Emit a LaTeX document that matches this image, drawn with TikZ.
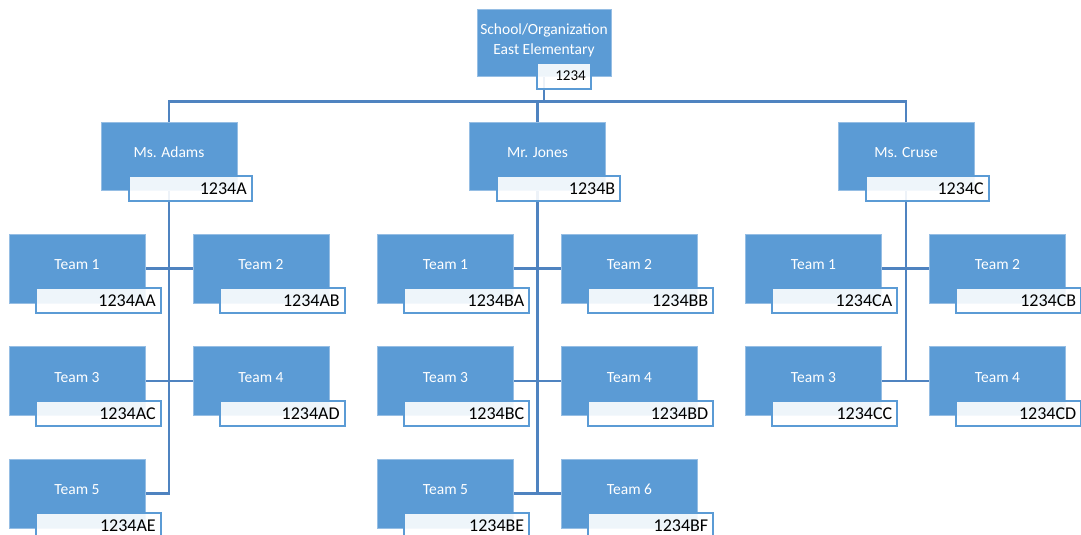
\documentclass[tikz,border=0pt]{standalone}
\usepackage{fontspec}
\setmainfont{Carlito}
\usetikzlibrary{backgrounds,calc}
\definecolor{boxblue}{RGB}{91,155,213}
\definecolor{lineblue}{RGB}{79,131,192}
\definecolor{edgeblue}{RGB}{150,190,228}
\tikzset{
  boxbase/.style={rectangle, fill=boxblue, draw=edgeblue, line width=0.6pt, inner sep=0pt,
    minimum width=136pt, minimum height=69pt, text=white, font=\fontsize{15.5}{19}\selectfont},
  box/.style={boxbase, text height=11pt, text depth=3pt},
  topbox/.style={boxbase, minimum width=134pt, minimum height=67pt},
  mgrbox/.style={box, minimum height=68pt},
  lab/.style={rectangle, draw=boxblue, line width=2pt, fill=white, fill opacity=0.9, text opacity=1,
    text=black, inner ysep=0pt, inner xsep=5pt, minimum height=25pt, align=right,
    text width=115pt, anchor=north west, font=\fontsize{18}{20}\selectfont,
    text height=14pt, text depth=2pt},
  mgrlab/.style={lab, text width=113pt},
  toplab/.style={lab, text width=44pt, minimum height=26pt, font=\fontsize{15}{17}\selectfont,
    text height=11pt, text depth=3pt},
  conn/.style={draw=lineblue, line width=2.6pt}
}
\newcommand{\up}[2]{\raisebox{#1}{#2}}
\begin{document}
\begin{tikzpicture}[x=1pt,y=-1pt]
\useasboundingbox (0,0) rectangle (1081,535);

% top
\node[topbox] (top) at (544,42.5) {\up{19pt}{\begin{tabular}{@{}c@{}}School/Organization\\[0.5pt]East Elementary\end{tabular}}};
\node[toplab] (topl) at ($(top.south west)+(59,-14)$) {1234};

% managers
\node[mgrbox] (adams) at (169,156) {\up{3pt}{Ms. Adams}};
\node[mgrbox] (jones) at (537.5,156) {\up{3pt}{Mr. Jones}};
\node[mgrbox] (cruse) at (906,156) {\up{3pt}{Ms. Cruse}};
\node[mgrlab] (adamsl) at ($(adams.south west)+(27,-15)$) {1234A};
\node[mgrlab] (jonesl) at ($(jones.south west)+(27,-15)$) {1234B};
\node[mgrlab] (crusel) at ($(cruse.south west)+(27,-15)$) {1234C};

% Adams teams
\node[box] (a1) at (77,268.5) {\up{3pt}{Team 1}};
\node[box] (a2) at (261,268.5) {\up{3pt}{Team 2}};
\node[box] (a3) at (77,381) {\up{3pt}{Team 3}};
\node[box] (a4) at (261,381) {\up{3pt}{Team 4}};
\node[box] (a5) at (77,493.5) {\up{3pt}{Team 5}};
\node[lab] (a1l) at ($(a1.south west)+(26,-16)$) {1234AA};
\node[lab] (a2l) at ($(a2.south west)+(26,-16)$) {1234AB};
\node[lab] (a3l) at ($(a3.south west)+(26,-16)$) {1234AC};
\node[lab] (a4l) at ($(a4.south west)+(26,-16)$) {1234AD};
\node[lab] (a5l) at ($(a5.south west)+(26,-16)$) {1234AE};

% Jones teams
\node[box] (j1) at (445.5,268.5) {\up{3pt}{Team 1}};
\node[box] (j2) at (629.5,268.5) {\up{3pt}{Team 2}};
\node[box] (j3) at (445.5,381) {\up{3pt}{Team 3}};
\node[box] (j4) at (629.5,381) {\up{3pt}{Team 4}};
\node[box] (j5) at (445.5,493.5) {\up{3pt}{Team 5}};
\node[box] (j6) at (629.5,493.5) {\up{3pt}{Team 6}};
\node[lab] (j1l) at ($(j1.south west)+(26,-16)$) {1234BA};
\node[lab] (j2l) at ($(j2.south west)+(26,-16)$) {1234BB};
\node[lab] (j3l) at ($(j3.south west)+(26,-16)$) {1234BC};
\node[lab] (j4l) at ($(j4.south west)+(26,-16)$) {1234BD};
\node[lab] (j5l) at ($(j5.south west)+(26,-16)$) {1234BE};
\node[lab] (j6l) at ($(j6.south west)+(26,-16)$) {1234BF};

% Cruse teams
\node[box] (c1) at (813.5,268.5) {\up{3pt}{Team 1}};
\node[box] (c2) at (997.5,268.5) {\up{3pt}{Team 2}};
\node[box] (c3) at (813.5,381) {\up{3pt}{Team 3}};
\node[box] (c4) at (997.5,381) {\up{3pt}{Team 4}};
\node[lab] (c1l) at ($(c1.south west)+(26,-16)$) {1234CA};
\node[lab] (c2l) at ($(c2.south west)+(26,-16)$) {1234CB};
\node[lab] (c3l) at ($(c3.south west)+(26,-16)$) {1234CC};
\node[lab] (c4l) at ($(c4.south west)+(26,-16)$) {1234CD};

\begin{pgfonlayer}{background}
  \coordinate (bus) at ($(top.south)+(0,25)$);
  \draw[conn] (top.south) -- (bus);
  \draw[conn] (adams.north) |- (bus) -| (cruse.north);
  \draw[conn] (jones.north) -- (jones.north |- bus);
  % Adams
  \draw[conn] (adams.south) |- (a5.east);
  \draw[conn] (a1.east) -- (a2.west);
  \draw[conn] (a3.east) -- (a4.west);
  % Jones
  \draw[conn] (jones.south) -- (jones.south |- j5.east);
  \draw[conn] (j1.east) -- (j2.west);
  \draw[conn] (j3.east) -- (j4.west);
  \draw[conn] (j5.east) -- (j6.west);
  % Cruse
  \draw[conn] (cruse.south) -- (cruse.south |- c3.east);
  \draw[conn] (c1.east) -- (c2.west);
  \draw[conn] (c3.east) -- (c4.west);
\end{pgfonlayer}
\end{tikzpicture}
\end{document}
